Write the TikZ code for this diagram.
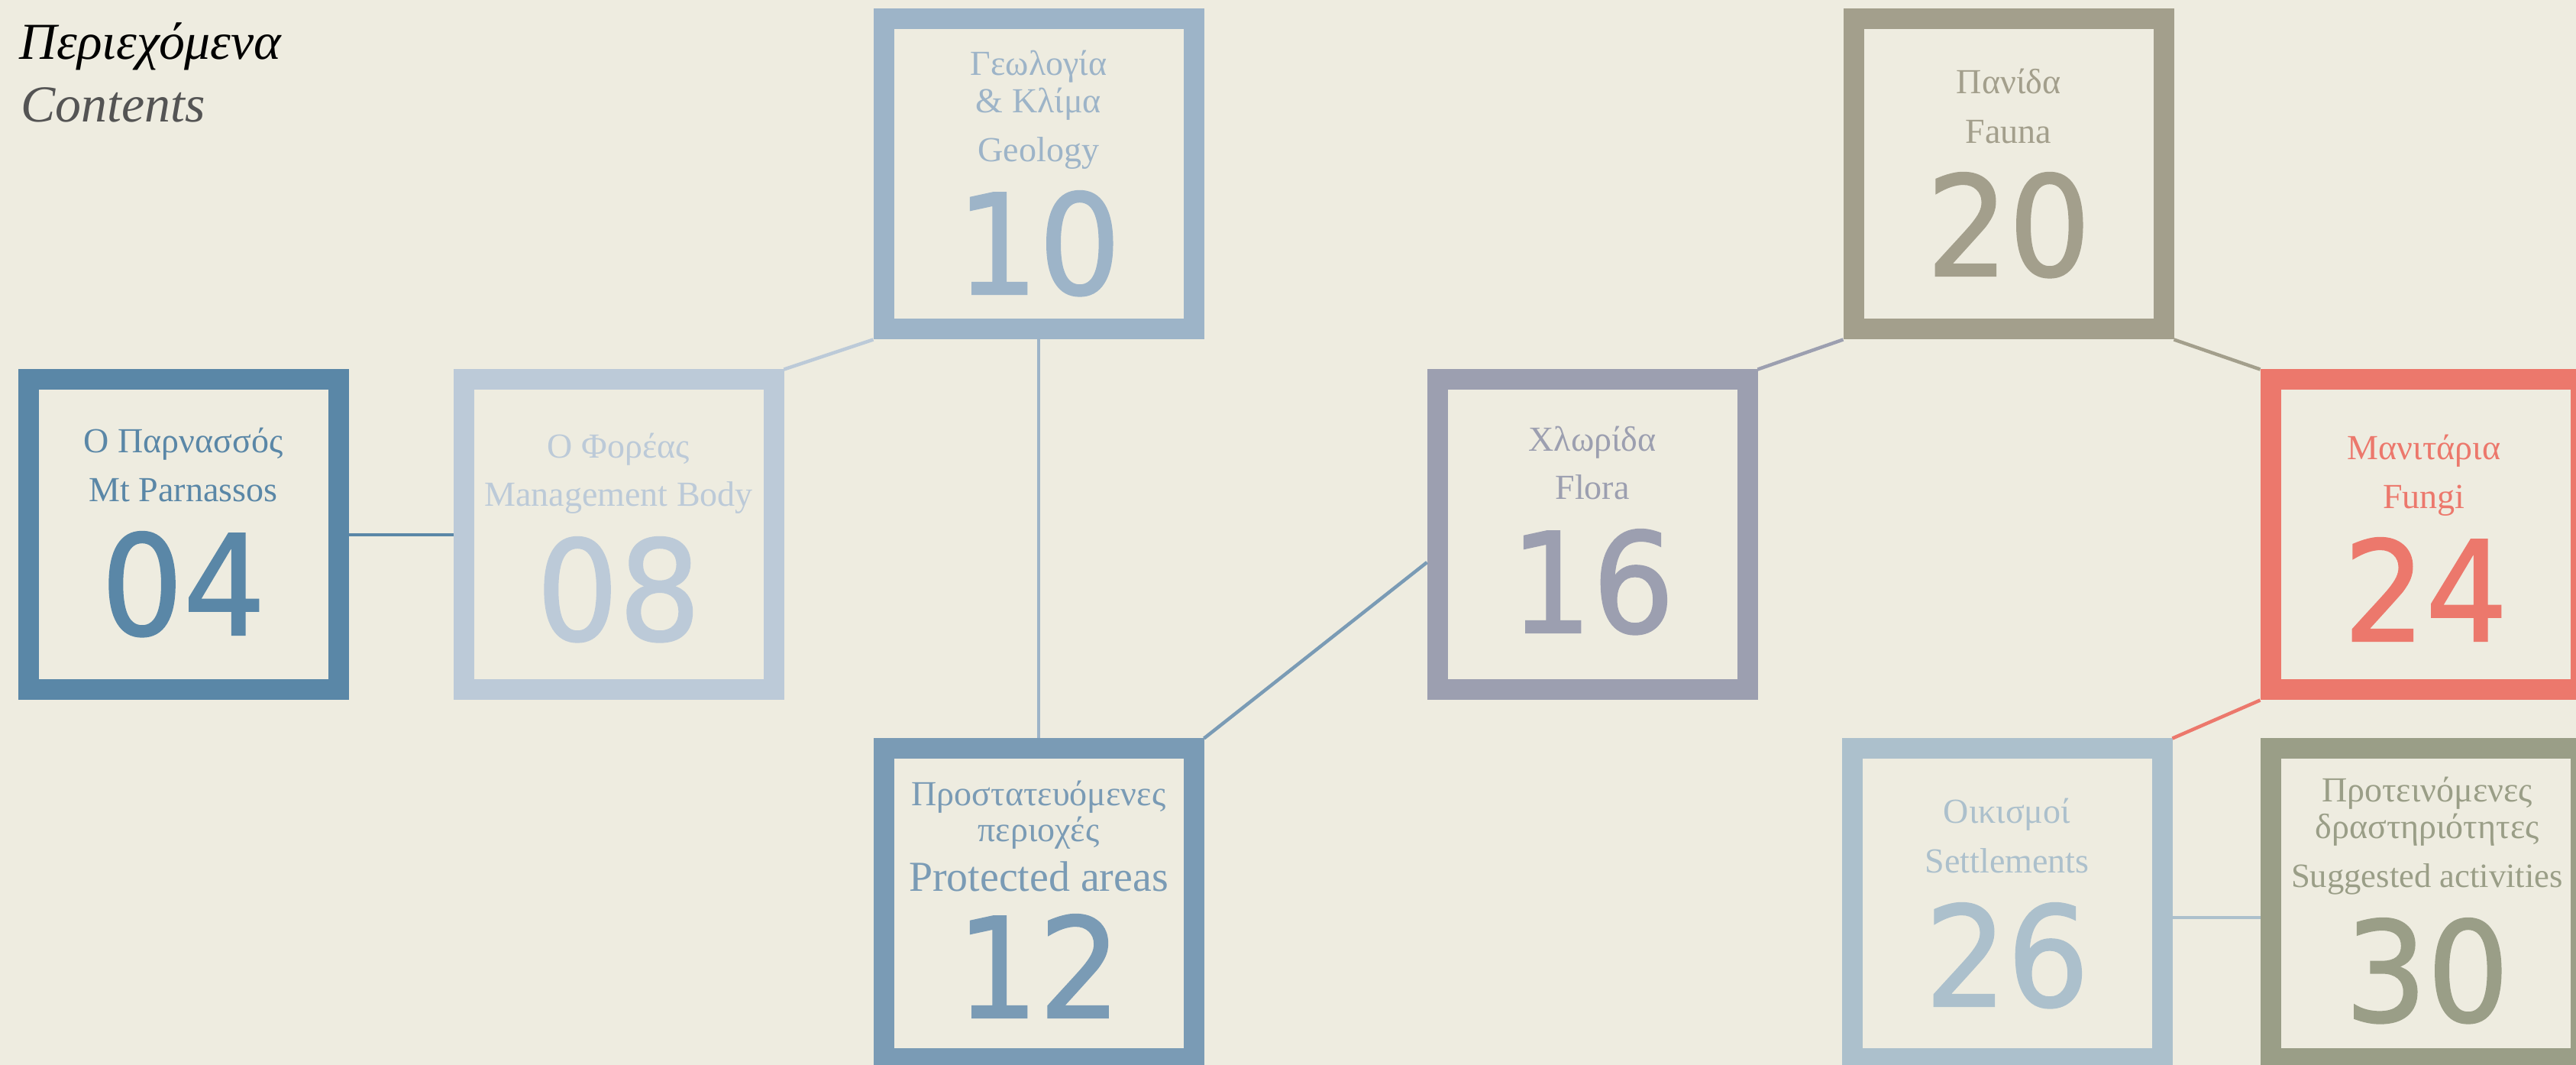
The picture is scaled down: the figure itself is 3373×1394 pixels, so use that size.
\documentclass[tikz,border=0pt]{standalone}
\usepackage{fontspec}
\setmainfont{Liberation Serif}
\newfontfamily\numfont{DejaVu Sans}[FakeBold=1.2,FakeStretch=0.93]

\definecolor{bg}{HTML}{EEECE0}
\definecolor{cParn}{HTML}{5A87A7}
\definecolor{cBody}{HTML}{BCCAD8}
\definecolor{cGeo}{HTML}{9DB4C8}
\definecolor{cProt}{HTML}{7A9BB5}
\definecolor{cFlora}{HTML}{9C9FB0}
\definecolor{cFauna}{HTML}{A39F8C}
\definecolor{cFungi}{HTML}{EC786C}
\definecolor{cSettl}{HTML}{ACC0CC}
\definecolor{cSugg}{HTML}{9A9E87}

\begin{document}
\begin{tikzpicture}[x=0.1mm,y=-0.1mm]
  \tikzset{box/.style = {shape=rectangle,draw,line width=2.7mm,minimum size=40.6mm,inner sep=0pt}}
  \tikzset{lbl/.style = {anchor=base,inner sep=0pt,font=\fontsize{13.1}{15}\selectfont}}
  \tikzset{num/.style = {anchor=base,inner sep=0pt,font=\numfont\fontsize{51.8}{60}\selectfont}}
  \tikzset{link/.style = {line width=0.45mm}}

  \fill[bg] (0,0) rectangle (3373,1394);
  \useasboundingbox (0,0) rectangle (3373,1394);

  % title
  \node[anchor=base west,inner sep=0pt,font=\itshape\fontsize{19.3}{22}\selectfont] (title) at (25,78) {Περιεχόμενα};
  \node[anchor=base west,inner sep=0pt,font=\itshape\fontsize{19.3}{22}\selectfont,text=black!67] (titleEn) at (27,160) {Contents};

  % boxes
	\node[box,draw=cParn] (parn) at (240,700) {};
	\node[box,draw=cBody] (body) at (810,700) {};
	\node[box,draw=cGeo] (geo) at (1360,228) {};
	\node[box,draw=cProt] (prot) at (1360,1183) {};
	\node[box,draw=cFlora] (flora) at (2085,700) {};
	\node[box,draw=cFauna] (fauna) at (2630,228) {};
	\node[box,draw=cFungi] (fungi) at (3176,700) {};
	\node[box,draw=cSettl] (settl) at (2628,1183) {};
	\node[box,draw=cSugg] (sugg) at (3176,1183) {};

  % labels
	\node[lbl,text=cParn] (parnGr) at (240,593) {Ο Παρνασσός};
	\node[lbl,text=cParn] (parnEn) at (240,657) {Mt Parnassos};
	\node[num,text=cParn] (parnNo) at (240,831) {04};

	\node[lbl,text=cBody] (bodyGr) at (810,600) {Ο Φορέας};
	\node[lbl,text=cBody] (bodyEn) at (810,663) {Management Body};
	\node[num,text=cBody] (bodyNo) at (810,838) {08};

	\node[lbl,text=cGeo] (geoGr) at (1360,99) {Γεωλογία};
	\node[lbl,text=cGeo] (geoGrB) at (1360,148) {\& Κλίμα};
	\node[lbl,text=cGeo] (geoEn) at (1360,212) {Geology};
	\node[num,text=cGeo] (geoNo) at (1360,385) {10};

	\node[lbl,text=cProt] (protGr) at (1360,1055) {Προστατευόμενες};
	\node[lbl,text=cProt] (protGrB) at (1360,1102) {περιοχές};
	\node[lbl,text=cProt,font=\fontsize{15.9}{18}\selectfont] (protEn) at (1360,1167) {Protected areas};
	\node[num,text=cProt] (protNo) at (1360,1332) {12};

	\node[lbl,text=cFlora] (floraGr) at (2085,591) {Χλωρίδα};
	\node[lbl,text=cFlora] (floraEn) at (2085,654) {Flora};
	\node[num,text=cFlora] (floraNo) at (2085,828) {16};

	\node[lbl,text=cFauna] (faunaGr) at (2630,123) {Πανίδα};
	\node[lbl,text=cFauna] (faunaEn) at (2630,188) {Fauna};
	\node[num,text=cFauna] (faunaNo) at (2630,361) {20};

	\node[lbl,text=cFungi] (fungiGr) at (3174,602) {Μανιτάρια};
	\node[lbl,text=cFungi] (fungiEn) at (3174,666) {Fungi};
	\node[num,text=cFungi] (fungiNo) at (3176,839) {24};

	\node[lbl,text=cSettl] (settlGr) at (2628,1078) {Οικισμοί};
	\node[lbl,text=cSettl] (settlEn) at (2628,1143) {Settlements};
	\node[num,text=cSettl] (settlNo) at (2628,1317) {26};

	\node[lbl,text=cSugg] (suggGr) at (3178,1050) {Προτεινόμενες};
	\node[lbl,text=cSugg] (suggGrB) at (3178,1098) {δραστηριότητες};
	\node[lbl,text=cSugg,font=\fontsize{12.7}{15}\selectfont] (suggEn) at (3178,1162) {Suggested activities};
	\node[num,text=cSugg] (suggNo) at (3178,1337) {30};

  % links
	\coordinate (floraIn) at ([yshift=-3.6mm]flora.west);
	\coordinate (settlOut) at ([yshift=-1.8mm]settl.east);
	\coordinate (suggIn) at ([yshift=-1.8mm]sugg.west);
       \foreach \from/\to/\col in {parn/body/cParn, body.north east/geo.south west/cBody, geo/prot/cGeo, prot.north east/floraIn/cProt, flora.north east/fauna.south west/cFlora, fauna.south east/fungi.north west/cFauna, fungi.south west/settl.north east/cFungi, settlOut/suggIn/cSettl}
    \draw[link,\col] (\from) -- (\to);
\end{tikzpicture}
\end{document}
